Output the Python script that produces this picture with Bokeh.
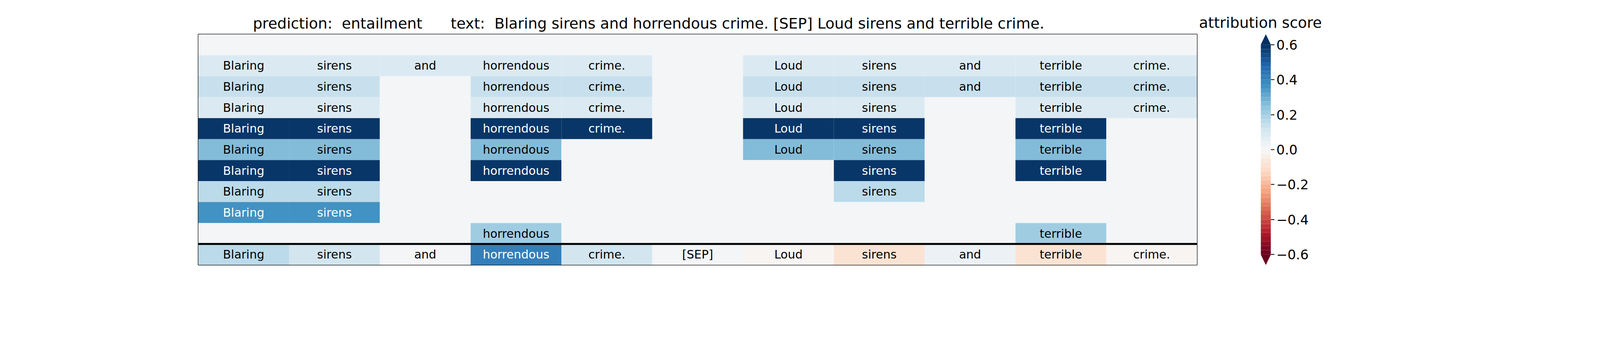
import numpy as np
from bokeh.plotting import figure
from bokeh.layouts import row
from bokeh.models import ColumnDataSource, Span, Title, FixedTicker
from bokeh.palettes import RdBu11
from bokeh.embed import file_html
from bokeh.resources import INLINE

tokens = ["Blaring", "sirens", "and", "horrendous", "crime.", "[SEP]",
          "Loud", "sirens", "and", "terrible", "crime."]

# rows from top (empty row) down to the last perturbation row
scores = [
    [0, 0, 0, 0, 0, 0, 0, 0, 0, 0, 0],
    [0.08, 0.08, 0.08, 0.08, 0.08, 0, 0.08, 0.08, 0.08, 0.08, 0.08],
    [0.13, 0.13, 0, 0.13, 0.13, 0, 0.13, 0.13, 0.13, 0.13, 0.13],
    [0.08, 0.08, 0, 0.08, 0.08, 0, 0.08, 0.08, 0, 0.08, 0.08],
    [0.62, 0.62, 0, 0.62, 0.62, 0, 0.62, 0.62, 0, 0.62, 0],
    [0.25, 0.25, 0, 0.25, 0, 0, 0.25, 0.25, 0, 0.25, 0],
    [0.66, 0.66, 0, 0.66, 0, 0, 0, 0.66, 0, 0.66, 0],
    [0.16, 0.16, 0, 0, 0, 0, 0, 0.16, 0, 0, 0],
    [0.36, 0.36, 0, 0, 0, 0, 0, 0, 0, 0, 0],
    [0, 0, 0, 0.22, 0, 0, 0, 0, 0, 0.22, 0],
]
# summary row at the bottom
summary = [0.15, 0.1, 0.01, 0.42, 0.1, 0.0, -0.02, -0.08, 0.03, -0.1, -0.025]

vmin, vmax = -0.6, 0.6
levels = np.linspace(vmin, vmax, 49)
cb_ticks = [-0.6, -0.4, -0.2, 0.0, 0.2, 0.4, 0.6]

base = list(reversed(RdBu11))  # red -> blue
NB = "\u00a0"


def hex_rgb(h):
    return np.array([int(h[i:i + 2], 16) for i in (1, 3, 5)], float)


def cmap(v):
    t = (min(max(v, vmin), vmax) - vmin) / (vmax - vmin)
    pos = t * (len(base) - 1)
    i = min(int(pos), len(base) - 2)
    f = pos - i
    c = hex_rgb(base[i]) * (1 - f) + hex_rgb(base[i + 1]) * f
    return "#%02x%02x%02x" % tuple(int(round(x)) for x in c)


def band_color(v):
    k = np.clip(np.searchsorted(levels, v, side="right") - 1, 0, len(levels) - 2)
    return cmap((levels[k] + levels[k + 1]) / 2)


xs, ys, cols, labels, tcols = [], [], [], [], []
all_rows = scores + [summary]
n = len(all_rows)
for r, vals in enumerate(all_rows):
    for c, v in enumerate(vals):
        xs.append(c + 0.5)
        ys.append(n - r - 0.5)
        cols.append(band_color(v))
        show = (r == n - 1) or v != 0
        labels.append(tokens[c] if show else "")
        tcols.append("white" if abs(v) > 0.3 else "black")

src = ColumnDataSource(dict(x=xs, y=ys, color=cols, label=labels, tcolor=tcols))

p = figure(width=3066, height=880, x_range=(0, len(tokens)), y_range=(0, n),
           output_backend="svg", toolbar_location=None,
           min_border_left=507, min_border_right=2, min_border_top=87, min_border_bottom=199)
p.rect("x", "y", width=1, height=1, source=src, fill_color="color", line_color=None)
p.text("x", "y", text="label", source=src, text_color="tcolor", text_align="center",
       text_baseline="middle", text_font_size="30px", text_font={"value": "DejaVu Sans"})
p.add_layout(Span(location=1, dimension="width", line_color="black", line_width=5))
p.axis.visible = False
p.grid.visible = False
p.outline_line_color = "black"
p.outline_line_width = 2
title_text = ("prediction:" + NB * 2 + "entailment" + NB * 6 + "text:" + NB * 2 +
              "Blaring sirens and horrendous crime. [SEP] Loud sirens and terrible crime.")
p.add_layout(Title(text=title_text, align="left", offset=140, text_font_size="38px",
                   text_font="DejaVu Sans", text_font_style="normal", text_color="black",
                   standoff=12), "above")

cb = figure(width=1714, height=880, x_range=(0, 1), y_range=(-0.66, 0.66),
            output_backend="svg", toolbar_location=None, y_axis_location="right",
            min_border_left=161, min_border_right=1527, min_border_top=83, min_border_bottom=203)
cb.quad(left=0, right=1, bottom=levels[:-1], top=levels[1:],
        fill_color=[cmap((a + b) / 2) for a, b in zip(levels[:-1], levels[1:])], line_color=None)
cb.patch([0, 1, 0.5], [vmax, vmax, 0.66], fill_color=cmap(vmax), line_color=None)
cb.patch([0, 1, 0.5], [vmin, vmin, -0.66], fill_color=cmap(vmin), line_color=None)
cb.xaxis.visible = False
cb.grid.visible = False
cb.outline_line_color = None
cb.yaxis.ticker = FixedTicker(ticks=cb_ticks)
cb.yaxis.major_label_overrides = {t: ("%.1f" % t).replace("-", "\u2212") for t in cb_ticks}
cb.yaxis.axis_line_color = None
cb.yaxis.minor_tick_line_color = None
cb.yaxis.major_tick_out = 9
cb.yaxis.major_tick_in = 0
cb.yaxis.major_tick_line_width = 2
cb.yaxis.major_label_text_font_size = "34px"
cb.yaxis.major_label_text_font = "DejaVu Sans"
cb.yaxis.major_label_text_color = "black"
cb.add_layout(Title(text="attribution score", align="left", offset=-158, text_font_size="38px",
                    text_font="DejaVu Sans", text_font_style="normal", text_color="black",
                    standoff=16), "above")

layout = row(p, cb)
open("out.html", "w").write(file_html(layout, INLINE))
